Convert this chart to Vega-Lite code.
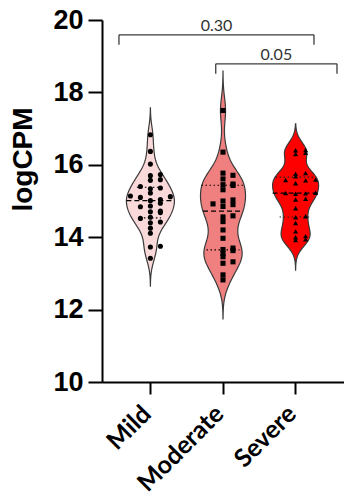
{
  "$schema": "https://vega.github.io/schema/vega-lite/v6.json",
  "width": 242,
  "height": 362,
  "padding": {"left": 9, "top": 6, "right": 0, "bottom": 0},
  "background": "white",
  "datasets": {
    "pts": [
      {"group": "Mild", "value": 16.83}, {"group": "Mild", "value": 16.37}, {"group": "Mild", "value": 16.02},
      {"group": "Mild", "value": 15.73}, {"group": "Mild", "value": 15.70}, {"group": "Mild", "value": 15.59},
      {"group": "Mild", "value": 15.57}, {"group": "Mild", "value": 15.40}, {"group": "Mild", "value": 15.36},
      {"group": "Mild", "value": 15.34}, {"group": "Mild", "value": 15.22}, {"group": "Mild", "value": 15.14},
      {"group": "Mild", "value": 15.12}, {"group": "Mild", "value": 15.10}, {"group": "Mild", "value": 15.04},
      {"group": "Mild", "value": 15.01}, {"group": "Mild", "value": 14.94}, {"group": "Mild", "value": 14.86},
      {"group": "Mild", "value": 14.84}, {"group": "Mild", "value": 14.72}, {"group": "Mild", "value": 14.70},
      {"group": "Mild", "value": 14.68}, {"group": "Mild", "value": 14.55}, {"group": "Mild", "value": 14.52},
      {"group": "Mild", "value": 14.42}, {"group": "Mild", "value": 14.40}, {"group": "Mild", "value": 14.25},
      {"group": "Mild", "value": 14.11}, {"group": "Mild", "value": 13.75}, {"group": "Mild", "value": 13.73},
      {"group": "Mild", "value": 13.42},
      {"group": "Moderate", "value": 17.50}, {"group": "Moderate", "value": 16.35}, {"group": "Moderate", "value": 15.77},
      {"group": "Moderate", "value": 15.71}, {"group": "Moderate", "value": 15.61}, {"group": "Moderate", "value": 15.47},
      {"group": "Moderate", "value": 15.45}, {"group": "Moderate", "value": 15.43}, {"group": "Moderate", "value": 15.31},
      {"group": "Moderate", "value": 15.03}, {"group": "Moderate", "value": 15.00}, {"group": "Moderate", "value": 14.92},
      {"group": "Moderate", "value": 14.90}, {"group": "Moderate", "value": 14.85}, {"group": "Moderate", "value": 14.59},
      {"group": "Moderate", "value": 14.56}, {"group": "Moderate", "value": 14.43}, {"group": "Moderate", "value": 14.20},
      {"group": "Moderate", "value": 13.97}, {"group": "Moderate", "value": 13.70}, {"group": "Moderate", "value": 13.66},
      {"group": "Moderate", "value": 13.63}, {"group": "Moderate", "value": 13.55}, {"group": "Moderate", "value": 13.46},
      {"group": "Moderate", "value": 13.32}, {"group": "Moderate", "value": 13.28}, {"group": "Moderate", "value": 12.96},
      {"group": "Moderate", "value": 12.82},
      {"group": "Severe", "value": 16.40}, {"group": "Severe", "value": 16.41}, {"group": "Severe", "value": 16.33},
      {"group": "Severe", "value": 16.30}, {"group": "Severe", "value": 15.77}, {"group": "Severe", "value": 15.75},
      {"group": "Severe", "value": 15.68}, {"group": "Severe", "value": 15.59}, {"group": "Severe", "value": 15.58},
      {"group": "Severe", "value": 15.57}, {"group": "Severe", "value": 15.49}, {"group": "Severe", "value": 15.23},
      {"group": "Severe", "value": 15.22}, {"group": "Severe", "value": 15.21}, {"group": "Severe", "value": 15.20},
      {"group": "Severe", "value": 15.06}, {"group": "Severe", "value": 15.04}, {"group": "Severe", "value": 14.80},
      {"group": "Severe", "value": 14.58}, {"group": "Severe", "value": 14.55}, {"group": "Severe", "value": 14.39},
      {"group": "Severe", "value": 14.16}, {"group": "Severe", "value": 14.03}, {"group": "Severe", "value": 14.00},
      {"group": "Severe", "value": 13.94}, {"group": "Severe", "value": 13.92}
    ],
    "brk": [
      {"x1": 0.567, "x2": 3.253, "xl": 1.91, "y": 19.59, "label": "0.30"},
      {"x1": 1.90, "x2": 3.57, "xl": 2.735, "y": 18.79, "label": "0.05"}
    ]
  },
  "layer": [
    {
      "data": {"name": "pts"},
      "transform": [
        {"filter": {"field": "group", "equal": "Mild"}},
        {"density": "value", "bandwidth": 0.27, "extent": [12.65, 17.57], "steps": 160}
      ],
      "mark": {"type": "area", "orient": "horizontal", "fill": "#F9D9D9", "stroke": "#3a3a3a", "strokeWidth": 1.2},
      "encoding": {
        "y": {"field": "value", "type": "quantitative", "title": "logCPM", "scale": {"domain": [10, 20], "nice": false, "zero": false}},
        "x": {"field": "density", "type": "quantitative", "stack": "center", "scale": {"nice": false, "zero": false, "range": [24.4, 72.4]}, "axis": null}
      }
    },
    {
      "data": {"name": "pts"},
      "transform": [
        {"filter": {"field": "group", "equal": "Moderate"}},
        {"density": "value", "bandwidth": 0.36, "extent": [11.74, 18.59], "steps": 160}
      ],
      "mark": {"type": "area", "orient": "horizontal", "fill": "#F08080", "stroke": "#3a3a3a", "strokeWidth": 1.2},
      "encoding": {
        "y": {"field": "value", "type": "quantitative", "title": "logCPM", "scale": {"domain": [10, 20], "nice": false, "zero": false}},
        "x": {"field": "density", "type": "quantitative", "stack": "center", "scale": {"nice": false, "zero": false, "range": [98.5, 143.5]}, "axis": null}
      }
    },
    {
      "data": {"name": "pts"},
      "transform": [
        {"filter": {"field": "group", "equal": "Severe"}},
        {"density": "value", "bandwidth": 0.26, "extent": [13.09, 17.13], "steps": 160}
      ],
      "mark": {"type": "area", "orient": "horizontal", "fill": "#FF0000", "stroke": "#3a3a3a", "strokeWidth": 1.2},
      "encoding": {
        "y": {"field": "value", "type": "quantitative", "title": "logCPM", "scale": {"domain": [10, 20], "nice": false, "zero": false}},
        "x": {"field": "density", "type": "quantitative", "stack": "center", "scale": {"nice": false, "zero": false, "range": [170.6, 216.6]}, "axis": null}
      }
    },
    {
      "data": {"name": "pts"},
      "encoding": {
        "x": {"field": "group", "type": "nominal", "title": null, "scale": {"type": "band", "domain": ["Mild", "Moderate", "Severe"], "paddingInner": 0.45, "paddingOuter": 0.3915}}
      },
      "layer": [
        {
          "transform": [{"filter": {"field": "group", "equal": "Mild"}}],
          "layer": [
            {"transform": [{"aggregate": [{"op": "median", "field": "value", "as": "med"}], "groupby": ["group"]}],
             "mark": {"type": "rule", "color": "black", "strokeWidth": 1.2, "strokeDash": [5, 3], "xOffset": -24, "x2Offset": 24},
             "encoding": {"x2": {"field": "group"}, "y": {"field": "med", "type": "quantitative", "title": "logCPM", "scale": {"domain": [10, 20], "nice": false, "zero": false}}}},
            {"transform": [{"aggregate": [{"op": "q3", "field": "value", "as": "uq"}], "groupby": ["group"]}],
             "mark": {"type": "rule", "color": "black", "strokeWidth": 1.2, "strokeDash": [1.5, 2.5], "xOffset": -13.5, "x2Offset": 13.5},
             "encoding": {"x2": {"field": "group"}, "y": {"field": "uq", "type": "quantitative", "title": "logCPM", "scale": {"domain": [10, 20], "nice": false, "zero": false}}}},
            {"transform": [{"aggregate": [{"op": "q1", "field": "value", "as": "lq"}], "groupby": ["group"]}],
             "mark": {"type": "rule", "color": "black", "strokeWidth": 1.2, "strokeDash": [1.5, 2.5], "xOffset": -10.5, "x2Offset": 10.5},
             "encoding": {"x2": {"field": "group"}, "y": {"field": "lq", "type": "quantitative", "title": "logCPM", "scale": {"domain": [10, 20], "nice": false, "zero": false}}}}
          ]
        },
        {
          "transform": [{"filter": {"field": "group", "equal": "Moderate"}}],
          "layer": [
            {"transform": [{"aggregate": [{"op": "median", "field": "value", "as": "med"}], "groupby": ["group"]}],
             "mark": {"type": "rule", "color": "black", "strokeWidth": 1.2, "strokeDash": [5, 3], "xOffset": -20, "x2Offset": 20},
             "encoding": {"x2": {"field": "group"}, "y": {"field": "med", "type": "quantitative", "title": "logCPM", "scale": {"domain": [10, 20], "nice": false, "zero": false}}}},
            {"transform": [{"aggregate": [{"op": "q3", "field": "value", "as": "uq"}], "groupby": ["group"]}],
             "mark": {"type": "rule", "color": "black", "strokeWidth": 1.2, "strokeDash": [1.5, 2.5], "xOffset": -21.5, "x2Offset": 21.5},
             "encoding": {"x2": {"field": "group"}, "y": {"field": "uq", "type": "quantitative", "title": "logCPM", "scale": {"domain": [10, 20], "nice": false, "zero": false}}}},
            {"transform": [{"aggregate": [{"op": "q1", "field": "value", "as": "lq"}], "groupby": ["group"]}],
             "mark": {"type": "rule", "color": "black", "strokeWidth": 1.2, "strokeDash": [1.5, 2.5], "xOffset": -16.5, "x2Offset": 16.5},
             "encoding": {"x2": {"field": "group"}, "y": {"field": "lq", "type": "quantitative", "title": "logCPM", "scale": {"domain": [10, 20], "nice": false, "zero": false}}}}
          ]
        },
        {
          "transform": [{"filter": {"field": "group", "equal": "Severe"}}],
          "layer": [
            {"transform": [{"aggregate": [{"op": "median", "field": "value", "as": "med"}], "groupby": ["group"]}],
             "mark": {"type": "rule", "color": "black", "strokeWidth": 1.2, "strokeDash": [5, 3], "xOffset": -23, "x2Offset": 23},
             "encoding": {"x2": {"field": "group"}, "y": {"field": "med", "type": "quantitative", "title": "logCPM", "scale": {"domain": [10, 20], "nice": false, "zero": false}}}},
            {"transform": [{"aggregate": [{"op": "q3", "field": "value", "as": "uq"}], "groupby": ["group"]}],
             "mark": {"type": "rule", "color": "#222222", "strokeWidth": 1.2, "strokeDash": [1.5, 2.5], "xOffset": -20, "x2Offset": 20},
             "encoding": {"x2": {"field": "group"}, "y": {"field": "uq", "type": "quantitative", "title": "logCPM", "scale": {"domain": [10, 20], "nice": false, "zero": false}}}},
            {"transform": [{"aggregate": [{"op": "q1", "field": "value", "as": "lq"}], "groupby": ["group"]}],
             "mark": {"type": "rule", "color": "#222222", "strokeWidth": 1.2, "strokeDash": [1.5, 2.5], "xOffset": -16, "x2Offset": 16},
             "encoding": {"x2": {"field": "group"}, "y": {"field": "lq", "type": "quantitative", "title": "logCPM", "scale": {"domain": [10, 20], "nice": false, "zero": false}}}}
          ]
        },
        {
          "transform": [
            {"bin": {"step": 0.15}, "field": "value", "as": "vb"},
            {"window": [{"op": "row_number", "as": "rk"}], "groupby": ["group", "vb"], "sort": [{"field": "value"}]}
          ],
          "mark": {"type": "point", "filled": true, "color": "black", "opacity": 1, "size": 26},
          "encoding": {
            "xOffset": {"field": "rk", "type": "ordinal", "scale": {"domain": [5, 3, 1, 2, 4], "paddingInner": 0, "paddingOuter": 0}},
            "y": {"field": "value", "type": "quantitative", "title": "logCPM", "scale": {"domain": [10, 20], "nice": false, "zero": false}},
            "shape": {"field": "group", "type": "nominal", "scale": {"domain": ["Mild", "Moderate", "Severe"], "range": ["circle", "square", "triangle-up"]}, "legend": null}
          }
        }
      ]
    },
    {
      "data": {"name": "brk"},
      "encoding": {
        "y": {"field": "y", "type": "quantitative", "title": "logCPM", "scale": {"domain": [10, 20], "nice": false, "zero": false}}
      },
      "layer": [
        {
          "mark": {"type": "rule", "color": "#3c3c3c", "strokeWidth": 1.3},
          "encoding": {
            "x": {"field": "x1", "type": "quantitative", "scale": {"domain": [0.3333, 3.6667], "nice": false, "zero": false}, "axis": null},
            "x2": {"field": "x2"}
          }
        },
        {
          "mark": {"type": "rule", "color": "#3c3c3c", "strokeWidth": 1.3, "y2Offset": 10},
          "encoding": {
            "x": {"field": "x1", "type": "quantitative", "scale": {"domain": [0.3333, 3.6667], "nice": false, "zero": false}, "axis": null},
            "y2": {"field": "y"}
          }
        },
        {
          "mark": {"type": "rule", "color": "#3c3c3c", "strokeWidth": 1.3, "y2Offset": 10},
          "encoding": {
            "x": {"field": "x2", "type": "quantitative", "scale": {"domain": [0.3333, 3.6667], "nice": false, "zero": false}, "axis": null},
            "y2": {"field": "y"}
          }
        },
        {
          "mark": {"type": "text", "baseline": "alphabetic", "dy": -4, "font": "Lato", "fontSize": 16, "color": "#333333"},
          "encoding": {
            "x": {"field": "xl", "type": "quantitative", "scale": {"domain": [0.3333, 3.6667], "nice": false, "zero": false}, "axis": null},
            "text": {"field": "label"}
          }
        }
      ]
    }
  ],
  "resolve": {"scale": {"x": "independent", "shape": "independent"}},
  "config": {
    "view": {"stroke": null},
    "axis": {"grid": false, "domainColor": "black", "domainWidth": 2, "tickColor": "black", "tickWidth": 2, "labelColor": "black", "labelFontWeight": "bold", "titleColor": "black"},
    "axisY": {"tickCount": 5, "labelFont": "Liberation Sans", "labelFontSize": 27, "tickSize": 14, "labelPadding": 5, "titleFont": "Liberation Sans", "titleFontSize": 28, "titleFontWeight": "bold", "titlePadding": 15, "titleY": 139},
    "axisX": {"labelAngle": -45, "labelFont": "Lato", "labelFontSize": 25, "tickSize": 12, "labelPadding": 7, "labelOffset": -12}
  }
}
